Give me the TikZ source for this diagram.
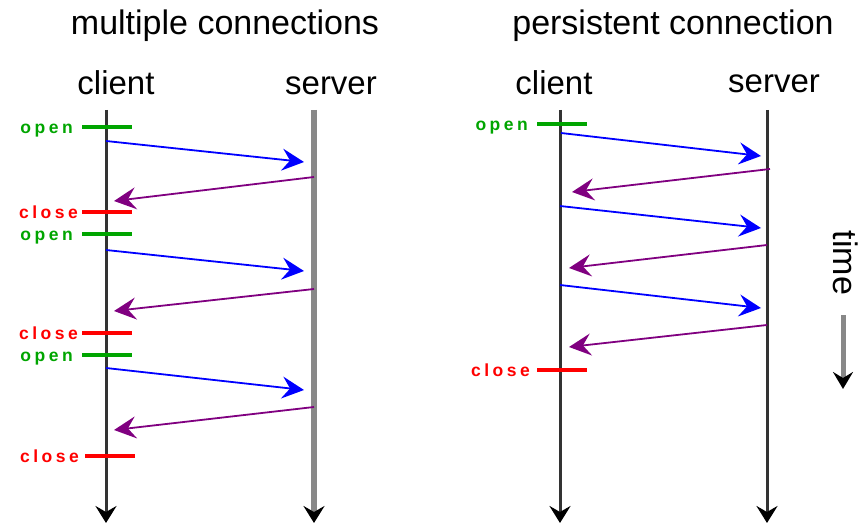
\documentclass[tikz,border=0pt]{standalone}
\usepackage{fontspec}
\setmainfont{Liberation Sans}
\newfontfamily\tagfont[LetterSpace=20]{Liberation Sans}
\usetikzlibrary{arrows.meta}
\definecolor{okgreen}{RGB}{0,165,0}
\definecolor{msgpurple}{RGB}{128,0,128}
\definecolor{linegray}{RGB}{136,136,136}
\definecolor{darkline}{RGB}{51,51,51}
\tikzset{
  title/.style={font=\fontsize{34}{34}\selectfont, anchor=base, inner sep=0pt},
  role/.style={font=\fontsize{33}{33}\selectfont, anchor=base, inner sep=0pt},
  tag/.style={font=\tagfont\bfseries\fontsize{17.5}{17.5}\selectfont, anchor=base east, inner sep=0pt},
  opentag/.style={tag, text=okgreen},
  closetag/.style={tag, text=red},
  openbar/.style={draw=okgreen, line width=3.5pt},
  closebar/.style={draw=red, line width=3.5pt},
  lifetip/.style={-{Stealth[length=17pt,width=21pt,inset=6pt,color=black]}},
  clientline/.style={lifetip, draw=darkline, line width=3pt},
  serverline/.style={lifetip, draw=linegray, line width=5.5pt},
  serverline2/.style={lifetip, draw=darkline, line width=3pt},
  req/.style={draw=blue, line width=1.8pt, -{Stealth[length=22pt,width=22pt,inset=8pt]}},
  resp/.style={draw=msgpurple, line width=1.8pt, -{Stealth[length=22pt,width=22pt,inset=8pt]}},
}
\begin{document}
\begin{tikzpicture}[x=1pt,y=-1pt]
\useasboundingbox (0,0) rectangle (861,524);
% titles
\node[title] (t1) at (225,35) {multiple connections};
\node[title] (t2) at (673,35) {persistent connection};
\node[role] (c1) at (116,95) {client};
\node[role] (s1) at (331,95) {server};
\node[role] (c2) at (554,95) {client};
\node[role] (s2) at (774,93) {server};

% ---------- left diagram ----------
\coordinate (c1top) at (106,110);
\coordinate (c1bot) at (106,523);
\coordinate (s1top) at (314,110);
\coordinate (s1bot) at (314,523);
\draw[serverline] (s1top) -- (s1bot);
\draw[clientline] (c1top) -- (c1bot);

% bars
\coordinate (o1a) at (82,127); \coordinate (o1b) at (132,127);
\coordinate (x1a) at (82,212); \coordinate (x1b) at (132,212);
\coordinate (o2a) at (82,234); \coordinate (o2b) at (132,234);
\coordinate (x2a) at (82,333); \coordinate (x2b) at (132,333);
\coordinate (o3a) at (82,355); \coordinate (o3b) at (132,355);
\coordinate (x3a) at (85,456); \coordinate (x3b) at (135,456);
\draw[openbar] (o1a) -- (o1b);
\draw[closebar] (x1a) -- (x1b);
\draw[openbar] (o2a) -- (o2b);
\draw[closebar] (x2a) -- (x2b);
\draw[openbar] (o3a) -- (o3b);
\draw[closebar] (x3a) -- (x3b);
\node[opentag] (lo1) at (73,133) {open};
\node[closetag] (lx1) at (78,218) {close};
\node[opentag] (lo2) at (73,240) {open};
\node[closetag] (lx2) at (78,339) {close};
\node[opentag] (lo3) at (73,361) {open};
\node[closetag] (lx3) at (79,462) {close};

% messages
\coordinate (a1) at (106,141); \coordinate (b1) at (304,162);
\coordinate (a2) at (314,177); \coordinate (b2) at (114,201);
\coordinate (a3) at (106,250); \coordinate (b3) at (304,271);
\coordinate (a4) at (314,289); \coordinate (b4) at (114,311);
\coordinate (a5) at (106,368); \coordinate (b5) at (304,390);
\coordinate (a6) at (314,407); \coordinate (b6) at (114,430);
\draw[req] (a1) -- (b1);
\draw[resp] (a2) -- (b2);
\draw[req] (a3) -- (b3);
\draw[resp] (a4) -- (b4);
\draw[req] (a5) -- (b5);
\draw[resp] (a6) -- (b6);

% ---------- right diagram ----------
\coordinate (c2top) at (560,110);
\coordinate (c2bot) at (560,523);
\coordinate (s2top) at (767,110);
\coordinate (s2bot) at (767,523);
\draw[serverline2] (s2top) -- (s2bot);
\draw[clientline] (c2top) -- (c2bot);

\coordinate (po1a) at (537,124); \coordinate (po1b) at (587,124);
\coordinate (px1a) at (537,370); \coordinate (px1b) at (587,370);
\draw[openbar] (po1a) -- (po1b);
\draw[closebar] (px1a) -- (px1b);
\node[opentag] (rlo) at (528,130) {open};
\node[closetag] (rlx) at (530,376) {close};

\coordinate (p1) at (561,133); \coordinate (q1) at (761,156);
\coordinate (p2) at (770,169); \coordinate (q2) at (572,192);
\coordinate (p3) at (560,206); \coordinate (q3) at (761,228);
\coordinate (p4) at (767,245); \coordinate (q4) at (569,268);
\coordinate (p5) at (560,285); \coordinate (q5) at (761,308);
\coordinate (p6) at (767,325); \coordinate (q6) at (569,347);
\draw[req] (p1) -- (q1);
\draw[resp] (p2) -- (q2);
\draw[req] (p3) -- (q3);
\draw[resp] (p4) -- (q4);
\draw[req] (p5) -- (q5);
\draw[resp] (p6) -- (q6);

% time
\node[font=\fontsize{34}{34}\selectfont, rotate=-90, inner sep=0pt] (time) at (846,263) {time};
\coordinate (tt) at (843,315);
\coordinate (tb) at (843,389);
\draw[draw=linegray, line width=5pt, -{Stealth[length=17pt,width=20pt,inset=6pt,color=black]}] (tt) -- (tb);
\end{tikzpicture}
\end{document}
